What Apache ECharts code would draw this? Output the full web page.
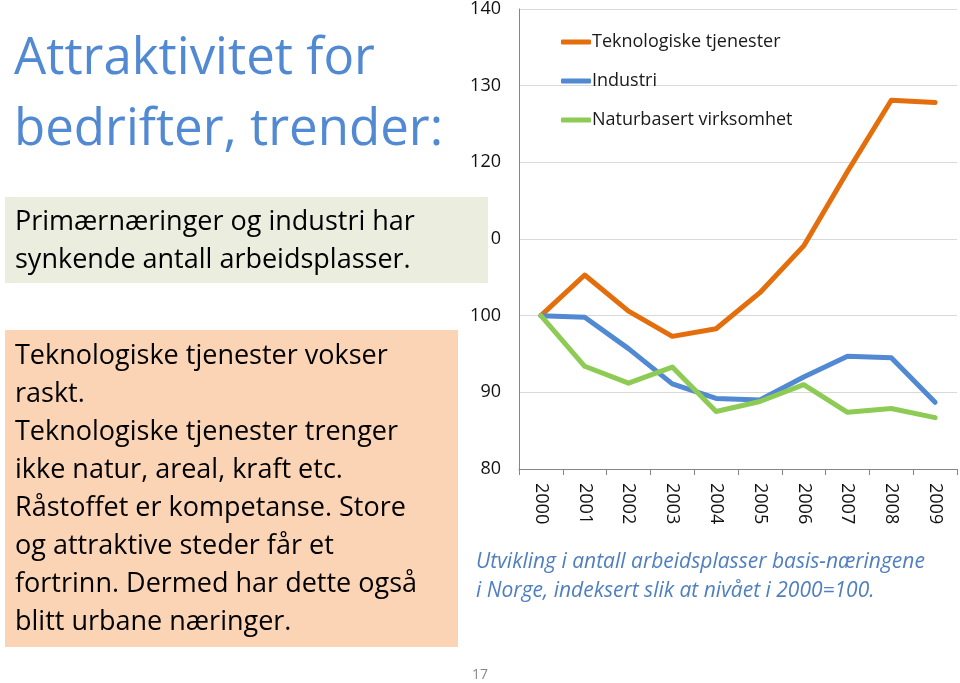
<!DOCTYPE html>
<html><head><meta charset="utf-8">
<script src="https://cdn.jsdelivr.net/npm/echarts@6/dist/echarts.min.js"></script>
<style>html,body{margin:0;padding:0;background:#fff}#c{width:960px;height:683px}</style>
</head><body><div id="c"></div>
<script>
const years = ['2000','2001','2002','2003','2004','2005','2006','2007','2008','2009'];
const yTicks = [80, 90, 100, 110, 120, 130, 140];
const teknologiske = [100, 105.3, 100.6, 97.3, 98.3, 103.0, 109.1, 118.8, 128.1, 127.8];
const industri = [100, 99.8, 95.7, 91.1, 89.2, 89.0, 92.0, 94.7, 94.5, 88.7];
const naturbasert = [100, 93.4, 91.2, 93.3, 87.5, 88.8, 91.0, 87.4, 87.9, 86.7];
const seriesNames = ['Teknologiske tjenester', 'Industri', 'Naturbasert virksomhet'];

const FONT = '"Open Sans", Lato, sans-serif';
const chart = echarts.init(document.getElementById('c'));
function line(name, data, color) {
  return { name, type: 'line', data, symbol: 'none', smooth: false,
    lineStyle: { color, width: 5, cap: 'round', join: 'round' }, itemStyle: { color } };
}
chart.setOption({
  animation: false,
  textStyle: { fontFamily: FONT },
  grid: { left: 519, right: 3, top: 8, bottom: 214, containLabel: false },
  legend: {
    left: 556, top: 28, orient: 'vertical', itemGap: 21, itemWidth: 30, itemHeight: 5,
    icon: 'roundRect',
    textStyle: { fontSize: 18, color: '#1a1a1a', fontFamily: FONT, padding: [0, 0, 0, -4] },
    data: seriesNames
  },
  xAxis: {
    type: 'category', data: years, boundaryGap: true,
    axisLine: { lineStyle: { color: '#868686', width: 1 } },
    axisTick: { show: true, length: 6, lineStyle: { color: '#868686' } },
    axisLabel: { rotate: -90, fontSize: 18, color: '#111', margin: 14, fontFamily: FONT }
  },
  yAxis: {
    type: 'value', min: yTicks[0], max: yTicks[yTicks.length - 1], interval: 10,
    axisLine: { show: true, lineStyle: { color: '#868686' } },
    axisTick: { show: false },
    splitLine: { lineStyle: { color: '#d9d9d9' } },
    axisLabel: { fontSize: 18, color: '#111', margin: 18, fontFamily: FONT }
  },
  series: [
    line(seriesNames[0], teknologiske, '#E46E0C'),
    line(seriesNames[1], industri, '#5189D2'),
    line(seriesNames[2], naturbasert, '#8DCB54')
  ],
  graphic: [
    { type: 'text', left: 14, top: 24, z: 100,
      style: { text: 'Attraktivitet for\nbedrifter, trender:', fill: '#5289D3', font: '51px ' + FONT, lineHeight: 71 } },
    { type: 'rect', shape: { x: 5, y: 197, width: 483, height: 86 }, z: 100,
      style: { fill: '#EBEEDF' } },
    { type: 'text', left: 15, top: 203, z: 101,
      style: { text: 'Primærnæringer og industri har\nsynkende antall arbeidsplasser.', fill: '#000', font: '27px ' + FONT, lineHeight: 38 } },
    { type: 'rect', shape: { x: 5, y: 330, width: 453, height: 317 }, z: 100,
      style: { fill: '#FBD4B6' } },
    { type: 'text', left: 15, top: 337, z: 101,
      style: { text: 'Teknologiske tjenester vokser\nraskt.\nTeknologiske tjenester trenger\nikke natur, areal, kraft etc.\nRåstoffet er kompetanse. Store\nog attraktive steder får et\nfortrinn. Dermed har dette også\nblitt urbane næringer.', fill: '#000', font: '27px ' + FONT, lineHeight: 38.1 } },
    { type: 'text', left: 476, top: 548, z: 101,
      style: { text: 'Utvikling i antall arbeidsplasser basis-næringene\ni Norge, indeksert slik at nivået i 2000=100.', fill: '#4F7FC0', font: 'italic 21px ' + FONT, lineHeight: 29 } },
    { type: 'text', left: 472, top: 668, z: 101,
      style: { text: '17', fill: '#888', font: '14px ' + FONT } }
  ]
});
</script></body></html>
